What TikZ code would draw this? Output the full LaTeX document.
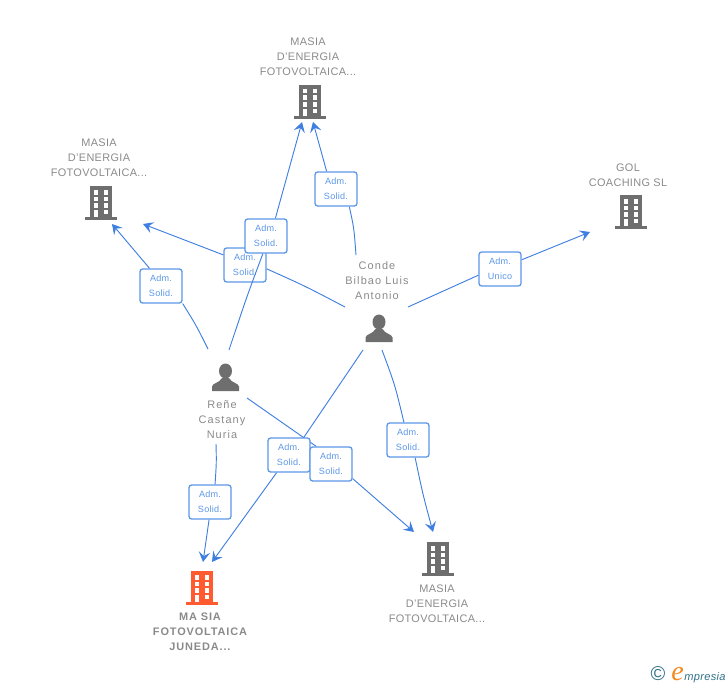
\documentclass[tikz,border=0pt]{standalone}
\usepackage{fontspec}
\setmainfont{Liberation Sans}[LetterSpace=3]
\newfontfamily\logofont{Liberation Serif}
\usetikzlibrary{arrows.meta,backgrounds}
\definecolor{linkc}{HTML}{3F7FE0}
\definecolor{boxc}{HTML}{5C97E8}
\definecolor{txtc}{HTML}{8A8A8A}
\definecolor{iconc}{HTML}{6E6E6E}
\definecolor{hotc}{HTML}{FF5A30}
\definecolor{tealc}{HTML}{2F7088}
\definecolor{orangec}{HTML}{F28A1E}
\tikzset{
 x=0.75pt,y=-0.75pt,
 linkline/.style={draw=linkc,line width=0.7pt},
 linkarrow/.style={linkline,-{Stealth[length=7.5pt,width=8.5pt,inset=3pt]}},
 rolebox/.style={draw=boxc,fill=white,line width=0.95pt,rounded corners=2pt,minimum width=31.5pt,minimum height=25.5pt,inner sep=0pt,align=center,text=boxc,font=\fontsize{6.8pt}{11.2pt}\selectfont},
 lab/.style={align=center,text=txtc,inner sep=0pt,font=\fontsize{8.2pt}{11.25pt}\selectfont},
 personlab/.style={lab,font=\fontsize{8.2pt}{11.25pt}\selectfont\addfontfeatures{LetterSpace=10}},
 boldlab/.style={lab,font=\fontsize{8.2pt}{11.25pt}\selectfont\bfseries\addfontfeatures{LetterSpace=8}},
 pics/bldg/.style={code={
  \fill[#1] (-11,-17) rectangle (11,14);
  \fill[#1] (-16,14) rectangle (16,17);
  \foreach \r in {-13,-6.5,0}{
   \fill[white] (-7,\r) rectangle (-3,{\r+4.5});
   \fill[white] (3,\r) rectangle (7,{\r+4.5});}
  \fill[white] (-7,6.5) rectangle (-3,14);
  \fill[white] (3,6.5) rectangle (7,11);
 }},
 pics/person/.style={code={
  \fill[iconc] (0,-6) ellipse (6.5 and 7.5);
  \fill[iconc] (-13.5,14) -- (-13.5,9.5) .. controls (-13,6) and (-6,6) .. (-3.5,1) -- (3.5,1) .. controls (6,6) and (13,6) .. (13.5,9.5) -- (13.5,14) -- cycle;
 }},
}
\begin{document}
\begin{tikzpicture}
\useasboundingbox (0,0) rectangle (728,685);
% icons
\pic at (310,102) {bldg=iconc};
\pic at (101,203) {bldg=iconc};
\pic at (631,212) {bldg=iconc};
\pic at (438,559) {bldg=iconc};
\pic at (202,588) {bldg=hotc};
\pic at (379,328) {person};
\pic at (225.5,377) {person};
% labels
\node[lab] (ntop) at (308,57) {MASIA\\D'ENERGIA\\FOTOVOLTAICA...};
\node[lab] (nleft) at (99,158) {MASIA\\D'ENERGIA\\FOTOVOLTAICA...};
\node[lab] (ngol) at (628,175) {GOL\\COACHING SL};
\node[lab] (nright) at (437,604) {MASIA\\D'ENERGIA\\FOTOVOLTAICA...};
\node[boldlab] (nmain) at (200,632) {MA SIA\\FOTOVOLTAICA\\JUNEDA...};
\node[personlab] (nconde) at (377,281) {Conde\\Bilbao Luis\\Antonio};
\node[personlab] (nrene) at (222,420) {Reñe\\Castany\\Nuria};
% connector end points
\coordinate (tA) at (313,122);
\coordinate (tB) at (302,122);
\coordinate (lA) at (143,224);
\coordinate (lB) at (112,224);
\coordinate (gA) at (590,232);
\coordinate (rA) at (433,532);
\coordinate (rB) at (414,532);
\coordinate (mA) at (212,562);
\coordinate (mB) at (203,562);
\coordinate (c1) at (356,255);
\coordinate (c2) at (345,307);
\coordinate (c3) at (408,307);
\coordinate (c4) at (382,350);
\coordinate (c5) at (363,350);
\coordinate (n1) at (229,350);
\coordinate (n2) at (208,349);
\coordinate (n3) at (247,398);
\coordinate (n4) at (216,444);
% role boxes
\begin{scope}[on background layer]
\node[rolebox] (r3) at (245,265) {Adm.\\Solid.};
\end{scope}
\node[rolebox] (r2) at (266,236) {Adm.\\Solid.};
\node[rolebox] (r1) at (336,189) {Adm.\\Solid.};
\node[rolebox] (r4) at (161,286) {Adm.\\Solid.};
\node[rolebox] (r5) at (500,269) {Adm.\\Unico};
\node[rolebox] (r6) at (408,440) {Adm.\\Solid.};
\node[rolebox] (r7) at (289,455) {Adm.\\Solid.};
\node[rolebox] (r8) at (331,464) {Adm.\\Solid.};
\node[rolebox] (r9) at (210,502) {Adm.\\Solid.};
% connectors
\begin{scope}[on background layer]
\draw[linkline] (c2) .. controls (305,286) .. (r3.-10);
\draw[linkarrow] (r3.155) -- (lA);
\draw[linkline] (n1) .. controls (247,296) .. (r2.260);
\draw[linkarrow] (r2.62) -- (tB);
\draw[linkline] (c1) .. controls (354,228) .. (r1.-53);
\draw[linkarrow] (r1.118) -- (tA);
\draw[linkline] (n2) .. controls (196,325) .. (r4.-39);
\draw[linkarrow] (r4.123) -- (lB);
\draw[linkline] (c3) -- (r5.196);
\draw[linkarrow] (r5.23) -- (gA);
\draw[linkline] (c4) .. controls (395,385) .. (r6.103);
\draw[linkarrow] (r6.-68) .. controls (423,495) .. (rA);
\draw[linkline] (c5) -- (r7.50);
\draw[linkarrow] (r7.235) -- (mA);
\draw[linkline] (n3) -- (r8.130);
\draw[linkarrow] (r8.-34) -- (rB);
\draw[linkline] (n4) .. controls (216.5,462) .. (r9.74);
\draw[linkarrow] (r9.267) -- (mB);
\end{scope}
% logo
\node[text=tealc,inner sep=0pt,font=\fontsize{15pt}{15pt}\selectfont] (lc) at (658,674) {©};
\node[anchor=base west,inner sep=0pt,text=orangec,font=\logofont\itshape\fontsize{21pt}{21pt}\selectfont] (le) at (671,680) {e};
\node[anchor=base west,inner sep=0pt,text=tealc,font=\itshape\fontsize{8.3pt}{10pt}\selectfont] (lm) at (684,680) {mpresia};
\end{tikzpicture}
\end{document}
